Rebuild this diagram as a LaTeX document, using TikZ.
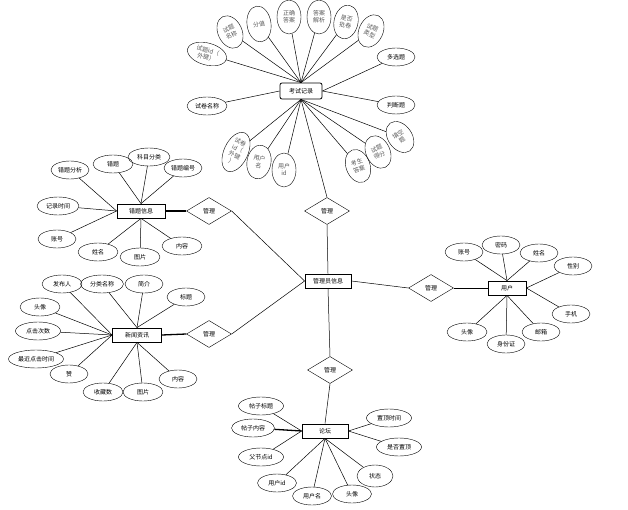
\documentclass[tikz,border=0pt]{standalone}
\usepackage{fontspec}
\setmainfont{Noto Sans CJK SC}
\usetikzlibrary{positioning,shapes.geometric}

\tikzset{
  entity/.style={draw,line width=0.8pt,minimum width=46pt,minimum height=14pt,inner sep=1pt,font=\fontsize{6}{7}\selectfont},
  attr/.style={draw,ellipse,minimum width=38pt,minimum height=18pt,inner sep=0pt,font=\fontsize{6}{7}\selectfont},
  vattr/.style={draw,ellipse,minimum width=24pt,minimum height=34pt,inner sep=0pt,align=center,text=black!65,font=\fontsize{6}{7}\selectfont},
  rel/.style={draw,diamond,minimum width=45pt,minimum height=27pt,inner sep=0pt,font=\fontsize{6}{7}\selectfont},
  link/.style={line width=0.5pt},
  thicklink/.style={line width=1.3pt}
}

\begin{document}
\begin{tikzpicture}[x=1pt,y=-1pt]
\useasboundingbox (0,0) rectangle (628,510);

% Entities
\node[entity] (admin) at (328,281) {管理员信息};
\node[entity,rounded corners=2pt,minimum width=42pt,minimum height=16pt] (kaoshi) at (301,91) {考试记录};
\node[entity,minimum width=48pt] (cuoti) at (141,211) {错题信息};
\node[entity,minimum width=49pt] (xinwen) at (137,335) {新闻资讯};
\node[entity,minimum width=38pt] (user) at (507,288) {用户};
\node[entity] (luntan) at (325,431) {论坛};

% Relations
\node[rel] (r1) at (327,211) {管理};
\node[rel] (r2) at (209,211) {管理};
\node[rel] (r3) at (209,334) {管理};
\node[rel] (r4) at (431,288) {管理};
\node[rel] (r5) at (330,370) {管理};

% Attributes of the exam record
\node[vattr,minimum width=40pt,minimum height=22pt,rotate=-15] (k1) at (207,54) {试题id（\\外键）};
\node[vattr,rotate=25] (k2) at (230,32) {试题\\名称};
\node[vattr,minimum height=36pt,rotate=8] (k3) at (259,24) {分值};
\node[vattr] (k4) at (289,17) {正确\\答案};
\node[vattr] (k5) at (319,17) {答案\\解析};
\node[vattr,rotate=-12] (k6) at (346,22) {是否\\批卷};
\node[vattr,rotate=-25] (k7) at (371,31) {试题\\类型};
\node[attr] (k8) at (396,57) {多选题};
\node[attr] (k9) at (396,105) {判断题};
\node[attr,minimum width=40pt] (k10) at (207,106) {试卷名称};
\node[vattr,minimum height=42pt,rotate=-25] (k11) at (236,152) {试卷\\id（\\外键\\）};
\node[vattr,rotate=-10] (k12) at (259,162) {用户\\名};
\node[vattr] (k13) at (284,170) {用户\\id};
\node[vattr,rotate=20] (k14) at (358,166) {考生\\答案};
\node[vattr,rotate=25] (k15) at (378,152) {试题\\得分};
\node[vattr,rotate=35] (k16) at (400,137) {填空\\题};

% Attributes of the wrong-question entity
\node[attr] (c1) at (70,170) {错题分析};
\node[attr,minimum width=40pt] (c2) at (113,164) {错题};
\node[attr,minimum width=42pt] (c3) at (149,157) {科目分类};
\node[attr] (c4) at (183,168) {错题编号};
\node[attr,minimum width=42pt] (c5) at (58,206) {记录时间};
\node[attr] (c6) at (57,239) {账号};
\node[attr,minimum width=40pt] (c7) at (98,252) {姓名};
\node[attr,minimum width=40pt] (c8) at (140,257) {图片};
\node[attr,minimum width=40pt] (c9) at (182,246) {内容};

% Attributes of the news entity
\node[attr,minimum width=40pt] (n1) at (62,284) {发布人};
\node[attr,minimum width=43pt] (n2) at (102,284) {分类名称};
\node[attr] (n3) at (144,284) {简介};
\node[attr] (n4) at (186,297) {标题};
\node[attr,minimum width=40pt] (n5) at (40,307) {头像};
\node[attr,minimum width=45pt] (n6) at (38,331) {点击次数};
\node[attr,minimum width=55pt] (n7) at (36,359) {最近点击时间};
\node[attr] (n8) at (69,374) {赞};
\node[attr,minimum width=40pt] (n9) at (103,392) {收藏数};
\node[attr,minimum width=40pt] (n10) at (143,392) {图片};
\node[attr] (n11) at (178,379) {内容};

% Attributes of the user entity
\node[attr] (u1) at (464,252) {账号};
\node[attr] (u2) at (501,245) {密码};
\node[attr] (u3) at (539,253) {姓名};
\node[attr] (u4) at (573,266) {性别};
\node[attr] (u5) at (571,314) {手机};
\node[attr] (u6) at (541,332) {邮箱};
\node[attr] (u7) at (506,344) {身份证};
\node[attr,minimum width=40pt] (u8) at (467,332) {头像};

% Attributes of the forum entity
\node[attr,minimum width=45pt] (f1) at (261,406) {帖子标题};
\node[attr,minimum width=43pt] (f2) at (253,428) {帖子内容};
\node[attr,minimum width=45pt] (f3) at (261,457) {父节点id};
\node[attr,minimum width=45pt] (f4) at (389,418) {置顶时间};
\node[attr,minimum width=45pt] (f5) at (399,447) {是否置顶};
\node[attr,minimum width=36pt,minimum height=22pt] (f6) at (375,476) {状态};
\node[attr,minimum width=39pt] (f7) at (352,494) {头像};
\node[attr,minimum width=39pt] (f8) at (312,496) {用户名};
\node[attr,minimum width=39pt] (f9) at (277,483) {用户id};

% Connectors of the exam record
\foreach \a in {k1,k2,k3,k4,k5,k6,k7}
    \draw[link] (\a) -- (kaoshi.north);
\foreach \a in {k8,k9}
    \draw[link] (\a) -- (kaoshi.east);
\draw[link] (k10) -- (kaoshi.west);
\foreach \a in {k11,k12,k13,k14,k15,k16}
    \draw[link] (\a) -- (kaoshi.south);

% Connectors of the wrong-question entity
\foreach \a in {c1,c5,c6}
    \draw[link] (\a) -- (cuoti.west);
\foreach \a in {c2,c3,c4}
    \draw[link] (\a) -- (cuoti.north);
\foreach \a in {c7,c8,c9}
    \draw[link] (\a) -- (cuoti.south);

% Connectors of the news entity
\foreach \a in {n1,n5,n6,n7,n8}
    \draw[link] (\a) -- (xinwen.west);
\foreach \a in {n2,n3,n4}
    \draw[link] (\a) -- (xinwen.north);
\foreach \a in {n9,n10,n11}
    \draw[link] (\a) -- (xinwen.south);

% Connectors of the user entity
\foreach \a in {u1,u2,u3}
    \draw[link] (\a) -- (user.north);
\foreach \a in {u4,u5}
    \draw[link] (\a) -- (user.east);
\foreach \a in {u6,u7,u8}
    \draw[link] (\a) -- (user.south);

% Connectors of the forum entity
\foreach \a in {f1,f3}
    \draw[link] (\a) -- (luntan.west);
\draw[thicklink] (f2) -- (luntan.west);
\foreach \a in {f4,f5}
    \draw[link] (\a) -- (luntan.east);
\foreach \a in {f6,f7,f8,f9}
    \draw[link] (\a) -- (luntan.south);

% Relations to the administrator
\draw[link] (kaoshi.south) -- (r1.north);
\draw[link] (r1.south) -- (admin.north);
\draw[thicklink] (cuoti.east) -- (r2.west);
\draw[link] (r2.east) -- (admin.west);
\draw[thicklink] (xinwen.east) -- (r3.west);
\draw[link] (r3.east) -- (admin.west);
\draw[link] (admin.east) -- (r4.west);
\draw[link] (r4.east) -- (user.west);
\draw[link] (admin.south) -- (r5.north);
\draw[link] (r5.south) -- (luntan.north);
\end{tikzpicture}
\end{document}
